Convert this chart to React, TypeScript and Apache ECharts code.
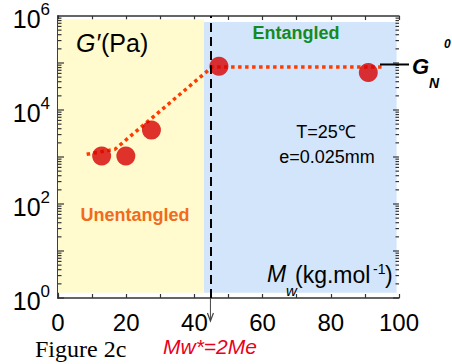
import React, { useEffect, useRef } from 'react';
import * as echarts from 'echarts';

// Data
const mwValues = [12.8, 19.9, 27.4, 47.2, 91.0];
const gPrimeValues = [1050, 1050, 3740, 85000, 63000];
const fitX = [8.4, 16.7, 45.2, 95.0];
const fitY = [1140, 1460, 82000, 82000];
const xTickLabels = [0, 20, 40, 60, 80, 100];
const yLabelExponents = [0, 2, 4, 6];
const mwStar = 44.7;
const unentangledX = [0, 42.8];
const unentangledY = [1.29, 851000];
const entangledX = [42.8, 99.3];
const entangledY = [1.29, 741000];
const plateauG = 93000;

const FONT = 'Liberation Sans, Arial, Helvetica, sans-serif';

export default function App() {
  const ref = useRef<HTMLDivElement>(null);
  useEffect(() => {
    document.body.style.margin = '0';
    const chart = echarts.init(ref.current!, null, { renderer: 'svg' });
    const axisLine = { show: true, lineStyle: { color: '#333', width: 1.5 } };
    const option: any = {
      animation: false,
      backgroundColor: '#ffffff',
      grid: { left: 58, right: 53, top: 16, bottom: 66, containLabel: false },
      xAxis: [
        {
          type: 'value', position: 'bottom', min: 0, max: 100, interval: 10,
          axisLine, splitLine: { show: false },
          axisTick: { show: true, inside: true, length: 4, lineStyle: { color: '#333', width: 1.2 } },
          axisLabel: {
            margin: 12, fontSize: 24, color: '#000', fontFamily: FONT,
            formatter: (v: number) => (xTickLabels.includes(v) ? String(v) : ''),
          },
        },
        {
          type: 'value', position: 'top', min: 0, max: 100, interval: 10,
          axisLine, splitLine: { show: false },
          axisTick: { show: true, inside: true, length: 4, lineStyle: { color: '#333', width: 1.2 } },
          axisLabel: { show: false },
        },
      ],
      yAxis: [
        {
          type: 'log', logBase: 10, min: 1, max: 1000000, splitNumber: 6,
          axisLine, splitLine: { show: false }, axisTick: { show: false },
          axisLabel: {
            margin: 8, color: '#000', fontFamily: FONT,
            formatter: (v: number) => {
              const e = Math.round(Math.log10(v));
              return yLabelExponents.includes(e) ? `{b|10}{s|${e}}` : '';
            },
            rich: {
              b: { fontSize: 25, fontFamily: FONT, color: '#000', lineHeight: 30, verticalAlign: 'bottom' },
              s: { fontSize: 17, fontFamily: FONT, color: '#000', lineHeight: 17, verticalAlign: 'top' },
            },
          },
        },
        {
          type: 'log', logBase: 10, min: 1, max: 1000000, position: 'right',
          axisLine, splitLine: { show: false }, axisTick: { show: false }, axisLabel: { show: false },
        },
      ],
      series: [
        {
          type: 'line', name: 'fit', xAxisIndex: 0, yAxisIndex: 0,
          data: fitX.map((x, i) => [x, fitY[i]]),
          symbol: 'none', z: 3,
          lineStyle: { color: '#ff3c00', width: 3.5, type: [3.5, 3.5], cap: 'butt' },
          markArea: {
            silent: true,
            data: [
              [
                { coord: [unentangledX[0], unentangledY[1]], itemStyle: { color: '#fffbcf' } },
                { coord: [unentangledX[1], unentangledY[0]] },
              ],
              [
                { coord: [entangledX[0], entangledY[1]], itemStyle: { color: '#d2e5fa' } },
                { coord: [entangledX[1], entangledY[0]] },
              ],
            ],
          },
          markLine: {
            silent: true, symbol: 'none', label: { show: false },
            lineStyle: { color: '#000', width: 2, type: [9, 5] },
            data: [{ xAxis: mwStar }],
          },
        },
        {
          type: 'scatter', name: 'data', xAxisIndex: 0, yAxisIndex: 0,
          data: mwValues.map((x, i) => [x, gPrimeValues[i]]),
          symbolSize: 19, z: 4,
          itemStyle: { color: '#d70000' },
        },
      ],
    };
    chart.setOption(option);

    const px = (x: number, y: number) =>
      chart.convertToPixel({ xAxisIndex: 0, yAxisIndex: 0 }, [x, y]) as number[];
    const [xl, yb] = px(0, 1);
    const [xr] = px(100, 1000000);
    const g: any[] = [];
    // log ticks on left and right
    for (let n = 0; n < 6; n++) {
      for (let m = 1; m <= 9; m++) {
        const [, y] = px(0, m * Math.pow(10, n));
        const len = m === 1 ? 6 : 3.5;
        g.push({ type: 'line', shape: { x1: xl, y1: y, x2: xl + len, y2: y }, style: { stroke: '#333', lineWidth: 1.2 }, z: 10 });
        g.push({ type: 'line', shape: { x1: xr, y1: y, x2: xr - len, y2: y }, style: { stroke: '#333', lineWidth: 1.2 }, z: 10 });
      }
    }
    // arrow below Mw*
    const [xs] = px(mwStar, 1);
    const tip = yb + 23;
    g.push({ type: 'line', shape: { x1: xs, y1: yb, x2: xs, y2: tip }, style: { stroke: '#444', lineWidth: 1 }, z: 10 });
    g.push({ type: 'polyline', shape: { points: [[xs - 3, tip - 8], [xs, tip], [xs + 3, tip - 8]] }, style: { stroke: '#444', lineWidth: 1.2, fill: null }, z: 10 });
    // G_N^0 pointer line
    const [, yg] = px(0, plateauG);
    g.push({ type: 'line', shape: { x1: 380, y1: yg, x2: 409, y2: yg }, style: { stroke: '#000', lineWidth: 2 }, z: 10 });

    const txt = (text: string, x: number, y: number, s: any) => ({
      type: 'text', x, y, z: 20,
      style: { text, fontFamily: FONT, fill: '#000', align: 'left', verticalAlign: 'middle', ...s },
    });
    g.push(txt('G′', 76, 43, { fontSize: 25, fontStyle: 'italic' }));
    g.push(txt('(Pa)', 101, 43, { fontSize: 25 }));
    g.push(txt('Entangled', 296, 33, { fontSize: 18, fontWeight: 'bold', fill: '#158a1f', align: 'center' }));
    g.push(txt('Unentangled', 135, 215, { fontSize: 18, fontWeight: 'bold', fill: '#f26a1d', align: 'center' }));
    g.push(txt('T=25℃', 326, 132, { fontSize: 18, align: 'center' }));
    g.push(txt('e=0.025mm', 327, 157, { fontSize: 18, align: 'center' }));
    g.push(txt('M', 267, 274, { fontSize: 23, fontStyle: 'italic' }));
    g.push(txt('w', 286, 290, { fontSize: 15, fontStyle: 'italic' }));
    g.push(txt('(kg.mol', 295, 275, { fontSize: 23 }));
    g.push(txt('-1', 373, 269, { fontSize: 14 }));
    g.push(txt(')', 385, 275, { fontSize: 23 }));
    g.push(txt('G', 412, 66, { fontSize: 22, fontStyle: 'italic', fontWeight: 'bold' }));
    g.push(txt('N', 429, 83, { fontSize: 14, fontStyle: 'italic', fontWeight: 'bold' }));
    g.push(txt('0', 444, 44, { fontSize: 12, fontStyle: 'italic', fontWeight: 'bold' }));
    g.push(txt('Figure 2c', 35, 349, { fontSize: 24, fontFamily: 'Liberation Serif, Times New Roman, serif' }));
    g.push(txt('Mw*=2Me', 163, 346, { fontSize: 21, fontStyle: 'italic', fill: '#e8001c' }));
    chart.setOption({ graphic: g });

    return () => chart.dispose();
  }, []);
  return <div ref={ref} style={{ position: 'absolute', left: 0, top: 0, width: 452, height: 364 }} />;
}
